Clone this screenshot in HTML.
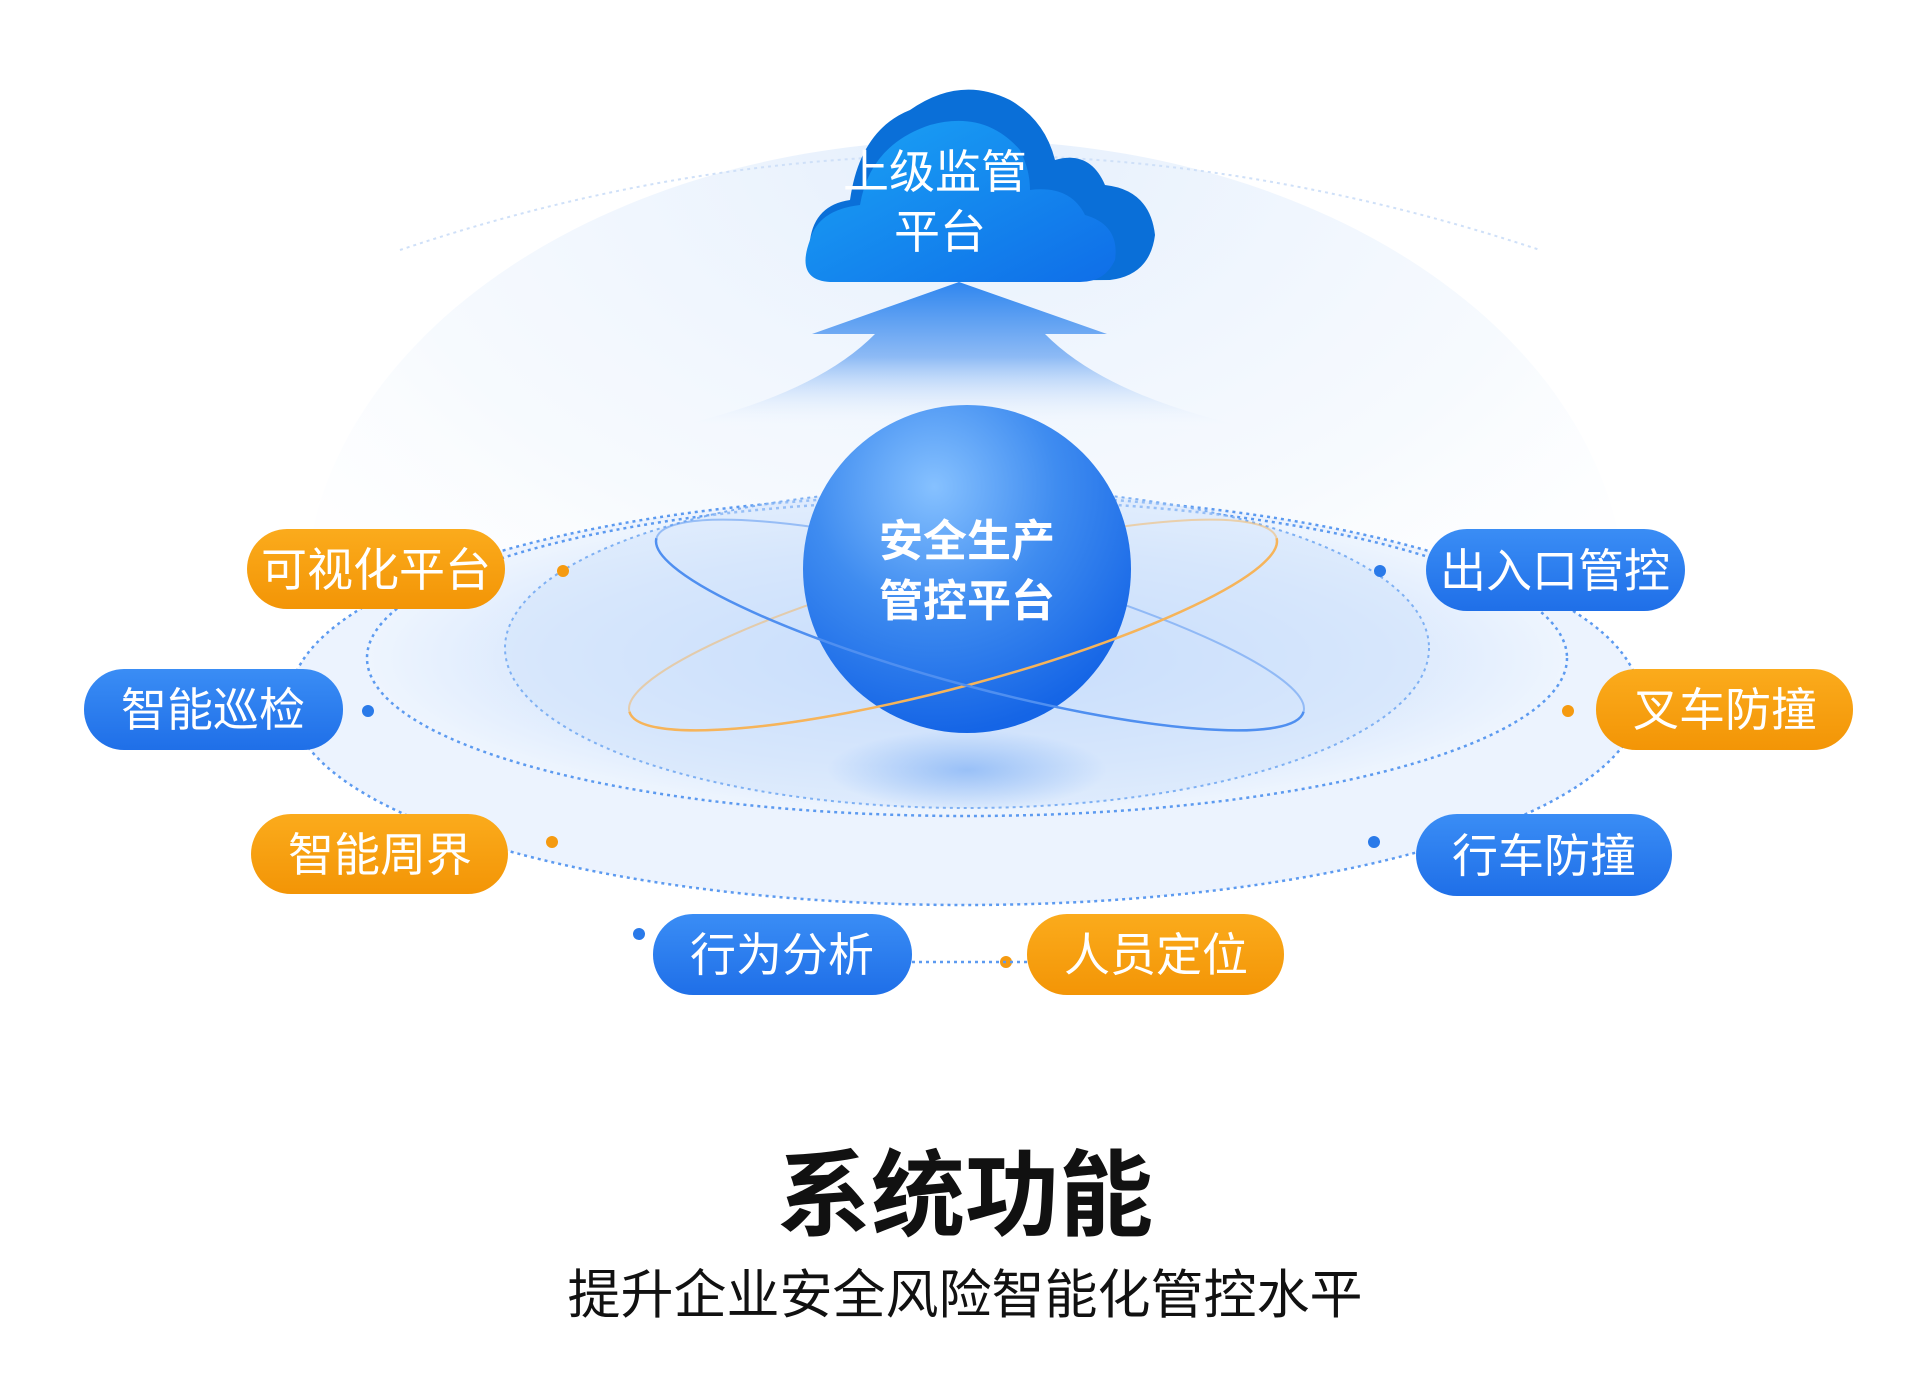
<!DOCTYPE html>
<html><head><meta charset="utf-8"><style>
html,body{margin:0;padding:0;background:#fff;width:1920px;height:1374px;overflow:hidden}
svg{display:block}
text{font-family:"Liberation Sans","Noto Sans CJK SC",sans-serif}
</style></head><body>
<svg width="1920" height="1374" viewBox="0 0 1920 1374" xmlns="http://www.w3.org/2000/svg">
<defs>
<radialGradient id="halo" cx="50%" cy="0%" r="75%">
<stop offset="0" stop-color="#d6e6fb" stop-opacity=".8"/><stop offset=".6" stop-color="#e9f2fd" stop-opacity=".5"/><stop offset="1" stop-color="#fff" stop-opacity="0"/>
</radialGradient>
<radialGradient id="disk" cx="50%" cy="50%" r="50%">
<stop offset="0" stop-color="#bcd6fb"/><stop offset=".7" stop-color="#dbe9fd"/><stop offset="1" stop-color="#eef5fe"/>
</radialGradient>
<radialGradient id="sph" cx="40%" cy="25%" r="75%">
<stop offset="0" stop-color="#86c1ff"/><stop offset=".5" stop-color="#3f8cf0"/><stop offset="1" stop-color="#1565e6"/>
</radialGradient>
<radialGradient id="shadow" cx="50%" cy="50%" r="50%">
<stop offset="0" stop-color="#7fb0f5" stop-opacity=".7"/><stop offset="1" stop-color="#7fb0f5" stop-opacity="0"/>
</radialGradient>
<linearGradient id="cloud" x1="0" y1="0" x2="1" y2="1">
<stop offset="0" stop-color="#1aa3f5"/><stop offset="1" stop-color="#0f6ee8"/>
</linearGradient>
<linearGradient id="arrow" x1="0" y1="0" x2="0" y2="1">
<stop offset="0" stop-color="#2f86ef"/><stop offset=".5" stop-color="#8dbaf5"/><stop offset="1" stop-color="#fff" stop-opacity="0"/>
</linearGradient>
<linearGradient id="blue" x1="0" y1="0" x2="0" y2="1"><stop offset="0" stop-color="#3a8df5"/><stop offset="1" stop-color="#1f6fe8"/></linearGradient>
<linearGradient id="orng" x1="0" y1="0" x2="0" y2="1"><stop offset="0" stop-color="#fbab1c"/><stop offset="1" stop-color="#f39506"/></linearGradient>
<clipPath id="lowerO"><rect x="500" y="625" width="1000" height="300"/></clipPath>
</defs>
<ellipse cx="965" cy="600" rx="660" ry="460" fill="url(#halo)" opacity=".8"/>
<path d="M400 250 Q965 60 1540 250" fill="none" stroke="#cfe0f8" stroke-width="2" stroke-dasharray="3 4"/>
<ellipse cx="965" cy="700" rx="675" ry="205" fill="#ecf3fe"/>
<ellipse cx="965" cy="700" rx="675" ry="205" fill="none" stroke="#5c9af0" stroke-width="2.5" stroke-dasharray="3 4"/>
<ellipse cx="967" cy="658" rx="600" ry="158" fill="url(#disk)"/>
<ellipse cx="967" cy="658" rx="600" ry="158" fill="none" stroke="#5c9af0" stroke-width="2.5" stroke-dasharray="3 4"/>
<ellipse cx="967" cy="648" rx="462" ry="160" fill="#d2e4fc" opacity=".5"/>
<ellipse cx="967" cy="648" rx="462" ry="160" fill="none" stroke="#7eb0f3" stroke-width="2" stroke-dasharray="3 4"/>
<ellipse cx="967" cy="770" rx="140" ry="40" fill="url(#shadow)"/>
<path d="M959 282 L1107 334 L1045 334 Q1110 400 1270 432 L650 432 Q810 400 875 334 L812 334 Z" fill="url(#arrow)"/>
<!-- orbits back -->
<g transform="rotate(-15 953 625)"><ellipse cx="953" cy="625" rx="335" ry="62" fill="none" stroke="#f6b45a" stroke-width="2" opacity=".5"/></g>
<g transform="rotate(15 980 625)"><ellipse cx="980" cy="625" rx="335" ry="62" fill="none" stroke="#4f8ff0" stroke-width="2" opacity=".5"/></g>
<circle cx="967" cy="569" r="164" fill="url(#sph)"/>
<!-- orbits front -->
<g transform="rotate(-15 953 625)"><ellipse cx="953" cy="625" rx="335" ry="62" fill="none" stroke="#f6b45a" stroke-width="2.5" clip-path="url(#lowerO)"/></g>
<g transform="rotate(15 980 625)"><ellipse cx="980" cy="625" rx="335" ry="62" fill="none" stroke="#4f8ff0" stroke-width="2.5" clip-path="url(#lowerO)"/></g>
<text x="967" y="556" font-size="44" font-weight="bold" fill="#fff" text-anchor="middle">安全生产</text>
<text x="967" y="616" font-size="44" font-weight="bold" fill="#fff" text-anchor="middle">管控平台</text>
<g>
<path d="M840 282 Q800 282 810 240 Q815 205 850 200 Q860 130 910 110 Q960 75 1010 100 Q1045 120 1055 160 Q1090 150 1105 185 Q1150 190 1155 235 Q1150 275 1110 280 Z" fill="#0a6fd8"/>
<path d="M830 282 Q795 280 810 240 Q818 210 860 205 Q870 145 930 125 Q985 110 1020 150 Q1030 170 1030 190 Q1070 185 1085 215 Q1120 225 1115 260 Q1105 282 1080 282 Z" fill="url(#cloud)"/>
</g>
<text x="935" y="188" font-size="46" fill="#fff" text-anchor="middle">上级监管</text>
<text x="940" y="248" font-size="46" fill="#fff" text-anchor="middle">平台</text>
<g fill="#f59a10"><circle cx="563" cy="571" r="6"/><circle cx="552" cy="842" r="6"/><circle cx="1006" cy="962" r="6"/><circle cx="1568" cy="711" r="6"/></g>
<g fill="#2a7ae9"><circle cx="368" cy="711" r="6"/><circle cx="639" cy="934" r="6"/><circle cx="1380" cy="571" r="6"/><circle cx="1374" cy="842" r="6"/></g>
<line x1="912" y1="962" x2="1027" y2="962" stroke="#5c9af0" stroke-width="2.5" stroke-dasharray="3 4"/>
<g font-size="46" fill="#fff" text-anchor="middle">
<rect x="247" y="529" width="258" height="80" rx="40" fill="url(#orng)"/><text x="376" y="586">可视化平台</text>
<rect x="84" y="669" width="259" height="81" rx="40" fill="url(#blue)"/><text x="213" y="726">智能巡检</text>
<rect x="251" y="814" width="257" height="80" rx="40" fill="url(#orng)"/><text x="380" y="871">智能周界</text>
<rect x="653" y="914" width="259" height="81" rx="40" fill="url(#blue)"/><text x="782" y="971">行为分析</text>
<rect x="1027" y="914" width="257" height="81" rx="40" fill="url(#orng)"/><text x="1156" y="971">人员定位</text>
<rect x="1426" y="529" width="259" height="82" rx="41" fill="url(#blue)"/><text x="1555" y="587">出入口管控</text>
<rect x="1596" y="669" width="257" height="81" rx="40" fill="url(#orng)"/><text x="1725" y="726">叉车防撞</text>
<rect x="1416" y="814" width="256" height="82" rx="41" fill="url(#blue)"/><text x="1544" y="872">行车防撞</text>
</g>
<text x="965" y="1228" font-size="94" font-weight="bold" fill="#111" text-anchor="middle">系统功能</text>
<text x="965" y="1313" font-size="53" fill="#111" text-anchor="middle">提升企业安全风险智能化管控水平</text>
</svg>
</body></html>
